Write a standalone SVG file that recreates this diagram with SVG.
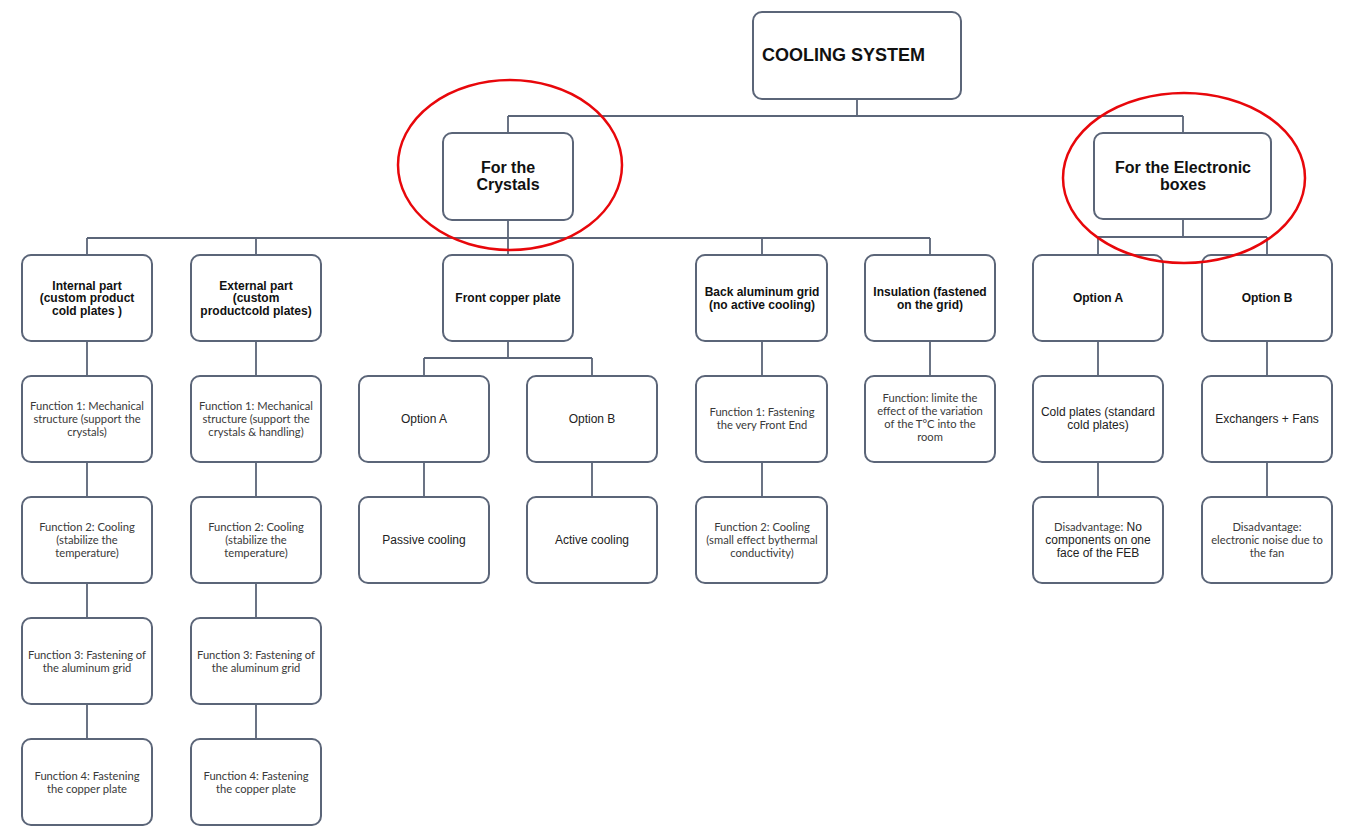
<svg xmlns="http://www.w3.org/2000/svg" width="1345" height="829" viewBox="0 0 1345 829">
<style>
.box{fill:#fff;stroke:#5b6578;stroke-width:2}
.ln{fill:none;stroke:#5b6578;stroke-width:1.8}
.ring{fill:none;stroke:#e8070b;stroke-width:2.5}
.t0{font-family:"Liberation Sans",Arial,sans-serif;font-weight:bold;font-size:18px;fill:#111}
.t1{font-family:"Liberation Sans",Arial,sans-serif;font-weight:bold;font-size:16px;fill:#111;text-anchor:middle}
.t2{font-family:"Liberation Sans",Arial,sans-serif;font-weight:bold;font-size:12px;fill:#111;text-anchor:middle}
.ta{font-family:"Liberation Sans",Arial,sans-serif;font-size:12px;fill:#222;text-anchor:middle}
.tc{font-family:Lato,"Open Sans",sans-serif;font-size:11.2px;fill:#3a3a3a;text-anchor:middle}
</style>
<g id="connectors">
<path class="ln" d="M857 99V116M508 116H1183M508 116V133M1183 116V133"/>
<path class="ln" d="M508 220V238M87 238H930M87 238V255M256 238V255M508 238V255M762 238V255M930 238V255"/>
<path class="ln" d="M1183 219V237M1098 237H1267M1098 237V255M1267 237V255"/>
<path class="ln" d="M87 341V376M87 462V497M87 583V618M87 704V739"/>
<path class="ln" d="M256 341V376M256 462V497M256 583V618M256 704V739"/>
<path class="ln" d="M508 341V358M424 358H592M424 358V376M592 358V376M424 462V497M592 462V497"/>
<path class="ln" d="M762 341V376M762 462V497"/>
<path class="ln" d="M930 341V376"/>
<path class="ln" d="M1098 341V376M1098 462V497M1267 341V376M1267 462V497"/>
</g>
<g id="n-root"><rect class="box" x="753" y="12" width="208" height="87" rx="9"/><text class="t0" x="762" y="61">COOLING SYSTEM</text></g>
<g id="n-crystals"><rect class="box" x="443" y="133" width="130" height="87" rx="9"/><text class="t1" x="508" y="173">For the</text><text class="t1" x="508" y="190">Crystals</text></g>
<g id="n-electronic"><rect class="box" x="1094" y="133" width="177" height="86" rx="9"/><text class="t1" x="1183" y="173">For the Electronic</text><text class="t1" x="1183" y="190">boxes</text></g>
<g id="n-internal"><rect class="box" x="22" y="255" width="130" height="86" rx="9"/><text class="t2" x="87" y="289.5">Internal part</text><text class="t2" x="87" y="302">(custom product</text><text class="t2" x="87" y="314.5">cold plates )</text></g>
<g id="n-external"><rect class="box" x="191" y="255" width="130" height="86" rx="9"/><text class="t2" x="256" y="289.5">External part</text><text class="t2" x="256" y="302">(custom</text><text class="t2" x="256" y="314.5">productcold plates)</text></g>
<g id="n-front"><rect class="box" x="443" y="255" width="130" height="86" rx="9"/><text class="t2" x="508" y="302">Front copper plate</text></g>
<g id="n-back"><rect class="box" x="696" y="255" width="131" height="86" rx="9"/><text class="t2" x="762" y="296">Back aluminum grid</text><text class="t2" x="762" y="308.5">(no active cooling)</text></g>
<g id="n-insul"><rect class="box" x="865" y="255" width="130" height="86" rx="9"/><text class="t2" x="930" y="296">Insulation (fastened</text><text class="t2" x="930" y="308.5">on the grid)</text></g>
<g id="n-eoa"><rect class="box" x="1033" y="255" width="130" height="86" rx="9"/><text class="t2" x="1098" y="302">Option A</text></g>
<g id="n-eob"><rect class="box" x="1202" y="255" width="130" height="86" rx="9"/><text class="t2" x="1267" y="302">Option B</text></g>
<g id="n-i1"><rect class="box" x="22" y="376" width="130" height="86" rx="9"/><text class="tc" x="87" y="410">Function 1: Mechanical</text><text class="tc" x="87" y="423">structure (support the</text><text class="tc" x="87" y="436">crystals)</text></g>
<g id="n-i2"><rect class="box" x="22" y="497" width="130" height="86" rx="9"/><text class="tc" x="87" y="531">Function 2: Cooling</text><text class="tc" x="87" y="544">(stabilize the</text><text class="tc" x="87" y="557">temperature)</text></g>
<g id="n-i3"><rect class="box" x="22" y="618" width="130" height="86" rx="9"/><text class="tc" x="87" y="658.5">Function 3: Fastening of</text><text class="tc" x="87" y="671.5">the aluminum grid</text></g>
<g id="n-i4"><rect class="box" x="22" y="739" width="130" height="86" rx="9"/><text class="tc" x="87" y="779.5">Function 4: Fastening</text><text class="tc" x="87" y="792.5">the copper plate</text></g>
<g id="n-e1"><rect class="box" x="191" y="376" width="130" height="86" rx="9"/><text class="tc" x="256" y="410">Function 1: Mechanical</text><text class="tc" x="256" y="423">structure (support the</text><text class="tc" x="256" y="436">crystals &amp; handling)</text></g>
<g id="n-e2"><rect class="box" x="191" y="497" width="130" height="86" rx="9"/><text class="tc" x="256" y="531">Function 2: Cooling</text><text class="tc" x="256" y="544">(stabilize the</text><text class="tc" x="256" y="557">temperature)</text></g>
<g id="n-e3"><rect class="box" x="191" y="618" width="130" height="86" rx="9"/><text class="tc" x="256" y="658.5">Function 3: Fastening of</text><text class="tc" x="256" y="671.5">the aluminum grid</text></g>
<g id="n-e4"><rect class="box" x="191" y="739" width="130" height="86" rx="9"/><text class="tc" x="256" y="779.5">Function 4: Fastening</text><text class="tc" x="256" y="792.5">the copper plate</text></g>
<g id="n-foa"><rect class="box" x="359" y="376" width="130" height="86" rx="9"/><text class="ta" x="424" y="423">Option A</text></g>
<g id="n-fob"><rect class="box" x="527" y="376" width="130" height="86" rx="9"/><text class="ta" x="592" y="423">Option B</text></g>
<g id="n-passive"><rect class="box" x="359" y="497" width="130" height="86" rx="9"/><text class="ta" x="424" y="544">Passive cooling</text></g>
<g id="n-active"><rect class="box" x="527" y="497" width="130" height="86" rx="9"/><text class="ta" x="592" y="544">Active cooling</text></g>
<g id="n-b1"><rect class="box" x="696" y="376" width="131" height="86" rx="9"/><text class="tc" x="762" y="416">Function 1: Fastening</text><text class="tc" x="762" y="429">the very Front End</text></g>
<g id="n-b2"><rect class="box" x="696" y="497" width="131" height="86" rx="9"/><text class="tc" x="762" y="531">Function 2: Cooling</text><text class="tc" x="762" y="544">(small effect bythermal</text><text class="tc" x="762" y="557">conductivity)</text></g>
<g id="n-ins1"><rect class="box" x="865" y="376" width="130" height="86" rx="9"/><text class="tc" x="930" y="402">Function: limite the</text><text class="tc" x="930" y="415">effect of the variation</text><text class="tc" x="930" y="428">of the T°C into the</text><text class="tc" x="930" y="441">room</text></g>
<g id="n-cold"><rect class="box" x="1033" y="376" width="130" height="86" rx="9"/><text class="ta" x="1098" y="416">Cold plates (standard</text><text class="ta" x="1098" y="429">cold plates)</text></g>
<g id="n-exch"><rect class="box" x="1202" y="376" width="130" height="86" rx="9"/><text class="ta" x="1267" y="423">Exchangers + Fans</text></g>
<g id="n-disa"><rect class="box" x="1033" y="497" width="130" height="86" rx="9"/><text class="ta" x="1098" y="531"><tspan style="font-family:Lato,'Open Sans',sans-serif;font-size:11.2px;fill:#3a3a3a">Disadvantage:</tspan> No</text><text class="ta" x="1098" y="544">components on one</text><text class="ta" x="1098" y="557">face of the FEB</text></g>
<g id="n-disb"><rect class="box" x="1202" y="497" width="130" height="86" rx="9"/><text class="tc" x="1267" y="531">Disadvantage:</text><text class="tc" x="1267" y="544">electronic noise due to</text><text class="tc" x="1267" y="557">the fan</text></g>
<g id="highlights">
<ellipse class="ring" cx="510" cy="165" rx="112" ry="85"/>
<ellipse class="ring" cx="1184" cy="178" rx="121" ry="85"/>
</g>
</svg>
